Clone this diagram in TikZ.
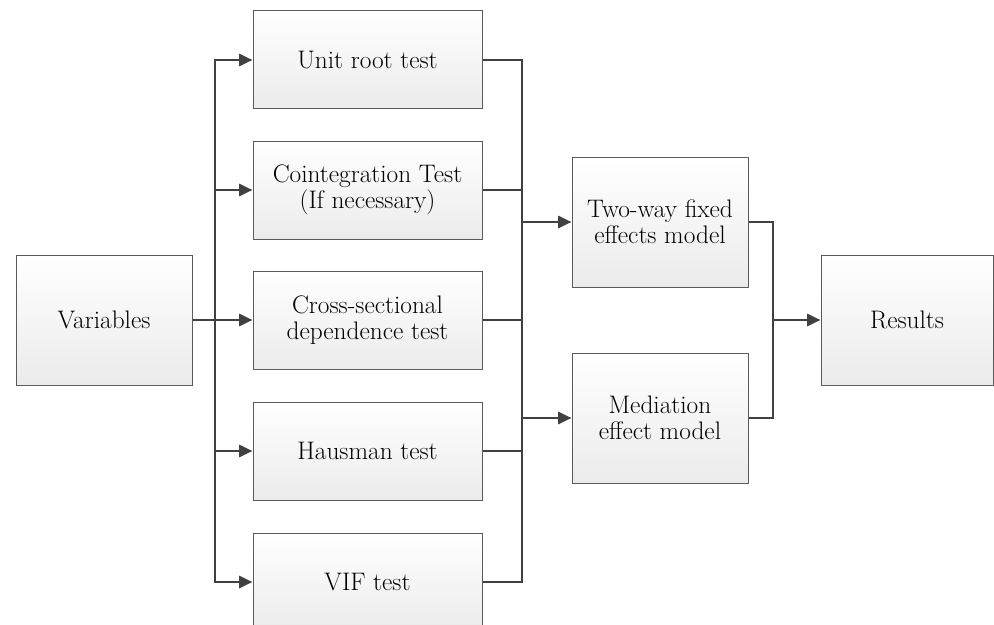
\documentclass[tikz,border=0pt]{standalone}
\usetikzlibrary{arrows.meta}
\definecolor{boxborder}{HTML}{5A5A5A}
\definecolor{boxbottom}{HTML}{EBEBEB}
\definecolor{lineclr}{HTML}{404040}
\begin{document}
\begin{tikzpicture}[x=0.75pt,y=-0.75pt,
  box/.style={draw=boxborder, line width=0.75pt, top color=white, bottom color=boxbottom,
    align=center, font=\fontsize{19}{19.5}\selectfont, inner sep=0pt},
  smallbox/.style={box, minimum width=132pt, minimum height=97.5pt},
  testbox/.style={box, minimum width=171.75pt, minimum height=73.5pt},
  conn/.style={draw=lineclr, line width=2pt},
  arr/.style={conn, -{Triangle[length=10pt,width=9pt]}}]
\useasboundingbox (0,0) rectangle (994,624);
\clip (0,0) rectangle (994,624);
\node[smallbox] (var) at (104,320) {Variables};
\node[testbox] (unit) at (367.5,60) {Unit root test};
\node[testbox] (coint) at (367.5,190) {Cointegration Test\\(If necessary)};
\node[testbox] (cross) at (367.5,320) {Cross-sectional\\dependence test};
\node[testbox] (haus) at (367.5,451) {Hausman test};
\node[testbox] (vif) at (367.5,582) {VIF test};
\node[smallbox] (two) at (660,222) {Two-way fixed\\effects model};
\node[smallbox] (med) at (660,418) {Mediation\\effect model};
\node[box, minimum width=129pt, minimum height=97.5pt] (res) at (907,320) {Results};
\coordinate (lb) at (215,320);
\coordinate (rb) at (522,320);
\coordinate (rb2) at (773,320);
% left bus
\draw[arr] (var.east) -- (cross.west);
\draw[arr] (lb) |- (unit.west);
\draw[arr] (lb) |- (vif.west);
\draw[arr] (coint.west -| lb) -- (coint.west);
\draw[arr] (haus.west -| lb) -- (haus.west);
% right bus
\draw[conn] (unit.east) -| (rb) |- (vif.east);
\draw[conn] (coint.east) -- (coint.east -| rb);
\draw[conn] (cross.east) -- (rb);
\draw[conn] (haus.east) -- (haus.east -| rb);
\draw[arr] (two.west -| rb) -- (two.west);
\draw[arr] (med.west -| rb) -- (med.west);
% final bus
\draw[conn] (two.east) -| (rb2) |- (med.east);
\draw[arr] (rb2) -- (res.west);
\end{tikzpicture}
\end{document}
